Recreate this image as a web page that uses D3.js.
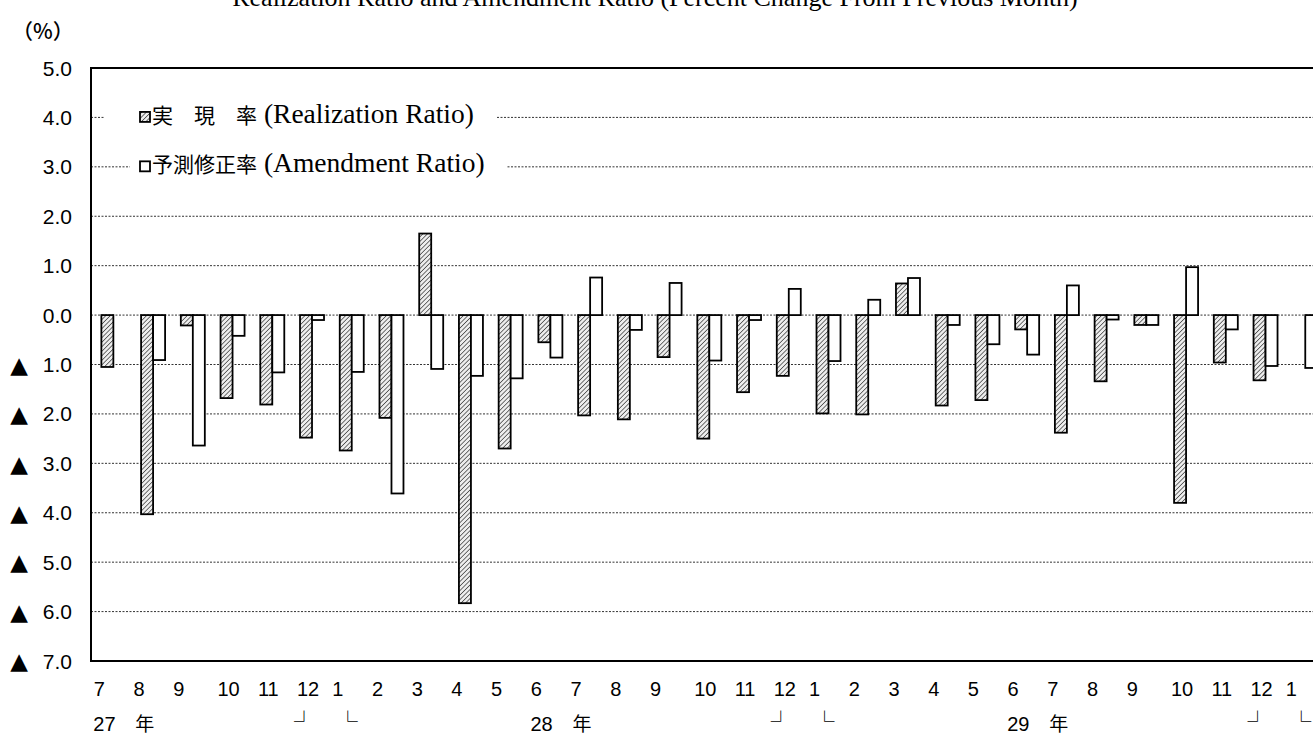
<!DOCTYPE html>
<html>
<head>
<meta charset="utf-8">
<script src="https://cdn.jsdelivr.net/npm/d3@7/dist/d3.min.js"></script>
<style>
  html, body { margin: 0; padding: 0; background: #fff; }
  svg { display: block; }
</style>
</head>
<body>
<div id="chart"></div>
<script>
// ---- data ----
const months = ["7","8","9","10","11","12","1","2","3","4","5","6","7","8","9","10","11","12","1","2","3","4","5","6","7","8","9","10","11","12","1"];
const realization = [-1.05,-4.03,-0.21,-1.68,-1.81,-2.48,-2.74,-2.08,1.65,-5.83,-2.70,-0.55,-2.03,-2.11,-0.85,-2.50,-1.56,-1.23,-1.99,-2.01,0.64,-1.83,-1.72,-0.29,-2.38,-1.34,-0.20,-3.80,-0.96,-1.32,null];
const amendment = [null,-0.91,-2.64,-0.42,-1.16,-0.10,-1.15,-3.61,-1.09,-1.23,-1.28,-0.86,0.76,-0.30,0.65,-0.92,-0.10,0.53,-0.93,0.31,0.75,-0.20,-0.59,-0.80,0.60,-0.09,-0.20,0.97,-0.29,-1.03,-1.07];
const yTicks = [5,4,3,2,1,0,-1,-2,-3,-4,-5,-6,-7];
const yearLabels = [{idx:0, num:"27"},{idx:11, num:"28"},{idx:23, num:"29"}];
const yearEnds = [5, 17, 29];     // December index
const yearStarts = [6, 18, 30];   // January index
const title = "Realization Ratio and Amendment Ratio (Percent Change From Previous Month)";
const legendItems = [
  {jp:"実　現　率", en:" (Realization Ratio)", key:"r"},
  {jp:"予測修正率", en:" (Amendment Ratio)", key:"a"}
];

// ---- layout ----
const W = 1313, H = 740;
const plotLeft = 91;
const svg = d3.select("#chart").append("svg").attr("width", W).attr("height", H);
svg.append("rect").attr("width", W).attr("height", H).attr("fill", "#fff");

const defs = svg.append("defs");
const pat = defs.append("pattern").attr("id","hatch").attr("patternUnits","userSpaceOnUse")
  .attr("width",3.2).attr("height",3.2).attr("patternTransform","rotate(45)");
pat.append("rect").attr("width",3.2).attr("height",3.2).attr("fill","#eeeeee");
pat.append("line").attr("x1",0).attr("y1",0).attr("x2",0).attr("y2",3.2).attr("stroke","#2a2a2a").attr("stroke-width",1.3);

const idx = d3.range(months.length);
const x = d3.scaleBand().domain(idx).range([93.5, 93.5 + 39.73*months.length]).paddingInner(0).paddingOuter(0);
const y = d3.scaleLinear().domain([-7, 5]).range([661, 68]);
const cx = i => x(i) + x.bandwidth()/2;
const bw = 12;

// gridlines
svg.append("g").selectAll("line").data(yTicks.filter(t => t > -7 && t < 5)).join("line")
  .attr("x1", plotLeft).attr("x2", W).attr("y1", d => y(d)).attr("y2", d => y(d))
  .attr("stroke", "#333").attr("stroke-width", 1).attr("stroke-dasharray", "2,1.5");

// bars
const bars = svg.append("g");
bars.selectAll("rect.r").data(idx.filter(i => realization[i] !== null)).join("rect").attr("class","r")
  .attr("x", i => cx(i) - bw).attr("width", bw)
  .attr("y", i => y(Math.max(0, realization[i]))).attr("height", i => Math.abs(y(realization[i]) - y(0)))
  .attr("fill", "url(#hatch)").attr("stroke", "#000").attr("stroke-width", 1.8);
bars.selectAll("rect.a").data(idx.filter(i => amendment[i] !== null)).join("rect").attr("class","a")
  .attr("x", i => cx(i)).attr("width", bw)
  .attr("y", i => y(Math.max(0, amendment[i]))).attr("height", i => Math.abs(y(amendment[i]) - y(0)))
  .attr("fill", "#fff").attr("stroke", "#000").attr("stroke-width", 1.8);

// frame
svg.append("line").attr("x1", plotLeft).attr("x2", W).attr("y1", y(5)).attr("y2", y(5)).attr("stroke","#000").attr("stroke-width",2);
svg.append("line").attr("x1", plotLeft).attr("x2", W).attr("y1", y(-7)).attr("y2", y(-7)).attr("stroke","#000").attr("stroke-width",2);
svg.append("line").attr("x1", plotLeft).attr("x2", plotLeft).attr("y1", y(5)-1).attr("y2", y(-7)+1).attr("stroke","#000").attr("stroke-width",2);

// legend
const legRows = [{y: 4, x0: 104, x1: 497}, {y: 3, x0: 130, x1: 507}];
legendItems.forEach((it, k) => {
  const row = legRows[k];
  const yy = y(row.y);
  svg.append("rect").attr("x", row.x0).attr("y", yy - 15).attr("width", row.x1 - row.x0).attr("height", 30).attr("fill", "#fff");
  svg.append("rect").attr("x", 140).attr("y", yy - 5.5).attr("width", 10).attr("height", 10)
    .attr("fill", it.key === "r" ? "url(#hatch)" : "#fff").attr("stroke", "#000").attr("stroke-width", 1.8);
  const t = svg.append("text").attr("x", 152).attr("y", yy).attr("dy", "0.35em").attr("fill", "#000")
    .attr("xml:space", "preserve");
  t.append("tspan").attr("font-family", "'Noto Sans CJK JP', sans-serif").attr("font-size", 21).text(it.jp);
  t.append("tspan").attr("font-family", "'Liberation Serif', serif").attr("font-size", 27.5).text(it.en);
});

// y axis labels
const axFont = "'Liberation Sans Narrow', 'Liberation Sans', 'Noto Sans CJK JP', sans-serif";
const yl = svg.append("g").attr("font-family", axFont).attr("font-size", 21).attr("fill", "#000");
yl.selectAll("text.num").data(yTicks).join("text").attr("class","num")
  .attr("x", 72).attr("y", d => y(d)).attr("dy", "0.36em").attr("text-anchor", "end")
  .text(d => Math.abs(d).toFixed(1));
yl.selectAll("text.tri").data(yTicks.filter(d => d < 0)).join("text").attr("class","tri")
  .attr("x", 19).attr("y", d => y(d)).attr("dy", "0.36em").attr("text-anchor", "middle")
  .attr("font-family", "'DejaVu Sans', sans-serif").attr("font-size", 23)
  .text("▲");

// (%)
svg.append("text").attr("x", 12).attr("y", 32).attr("dy", "0.35em")
  .attr("font-family", "'Noto Sans CJK JP', sans-serif").attr("font-size", 21).attr("font-weight", 500).text("（%）");

// title
svg.append("text").attr("x", 655).attr("y", 6).attr("text-anchor", "middle")
  .attr("font-family", "'Liberation Serif', serif").attr("font-size", 26).text(title);

// month labels
const ml = svg.append("g").attr("font-family", axFont).attr("font-size", 20).attr("fill", "#000");
ml.selectAll("text").data(idx).join("text")
  .attr("x", i => cx(i) - (months[i].length === 1 ? 14 : 4)).attr("y", 689).attr("dy", "0.36em")
  .attr("text-anchor", "middle").text(i => months[i]);

// year labels
const yg = svg.append("g").attr("fill", "#000");
yg.selectAll("text.yn").data(yearLabels).join("text").attr("class","yn")
  .attr("x", d => cx(d.idx) - 20).attr("y", 724).attr("dy", "0.36em")
  .attr("font-family", axFont).attr("font-size", 20).text(d => d.num);
yg.selectAll("text.yk").data(yearLabels).join("text").attr("class","yk")
  .attr("x", d => cx(d.idx) + 22).attr("y", 724).attr("dy", "0.36em")
  .attr("font-family", "'Noto Sans CJK JP', sans-serif").attr("font-size", 19).text("年");
yg.selectAll("text.ye").data(yearEnds).join("text").attr("class","ye")
  .attr("x", i => cx(i) - 8).attr("y", 722).attr("dy", "0.36em").attr("text-anchor","middle")
  .attr("font-family", "'Noto Sans CJK JP', sans-serif").attr("font-size", 20).attr("fill", "#000").text("┘");
yg.selectAll("text.ys").data(yearStarts).join("text").attr("class","ys")
  .attr("x", i => cx(i) - 4).attr("y", 722).attr("dy", "0.36em").attr("text-anchor","middle")
  .attr("font-family", "'Noto Sans CJK JP', sans-serif").attr("font-size", 20).attr("fill", "#000").text("└");
</script>
</body>
</html>
